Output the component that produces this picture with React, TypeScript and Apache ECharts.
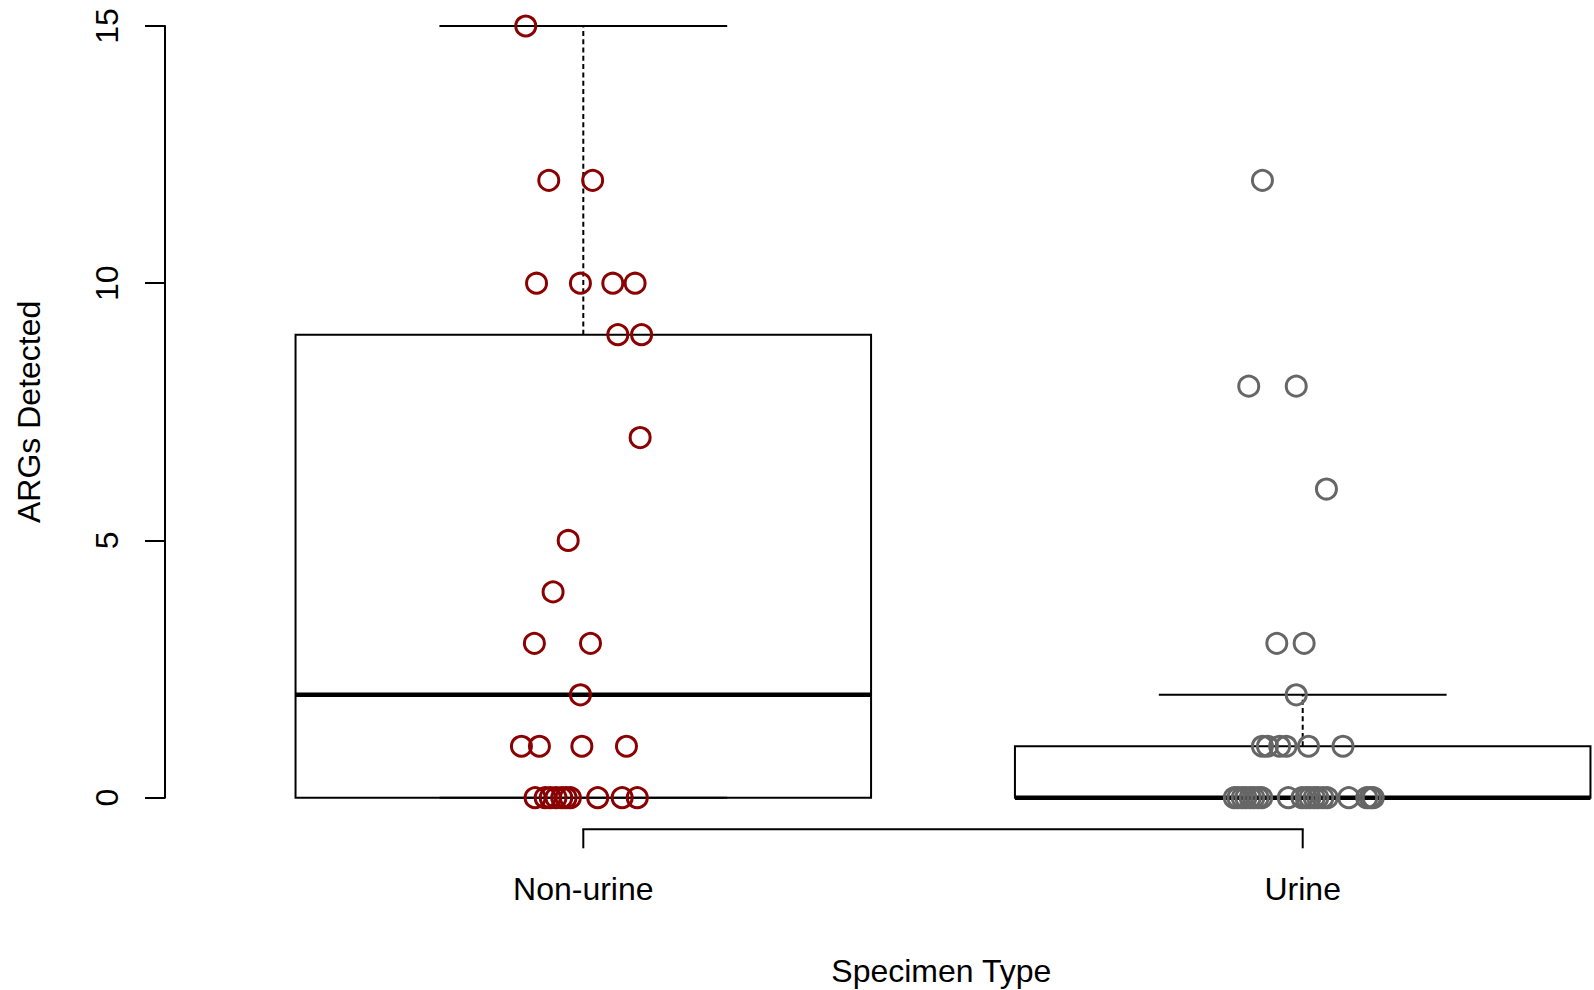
import React, { useEffect, useRef } from "react";
import * as echarts from "echarts";

// ---- data ----
const categories = ["Non-urine", "Urine"];
const categoryPos = [1, 2];
const yTicks = [0, 5, 10, 15];

// box statistics: [lower whisker, Q1, median, Q3, upper whisker]
const nonUrineBox = [0, 0, 2, 9, 15];
const urineBox = [0, 0, 0, 1, 2];

// jittered points (x = category position + jitter)
const nonUrineX = [
  0.92,
  0.952, 1.013,
  0.935, 0.996, 1.041, 1.072,
  1.048, 1.081,
  1.079,
  0.979,
  0.958,
  0.932, 1.01,
  0.996,
  0.914, 0.939, 0.998, 1.06,
  0.933, 0.947, 0.954, 0.962, 0.97, 0.976, 0.982, 1.02, 1.054, 1.075,
];
const nonUrineY = [
  15,
  12, 12,
  10, 10, 10, 10,
  9, 9,
  7,
  5,
  4,
  3, 3,
  2,
  1, 1, 1, 1,
  0, 0, 0, 0, 0, 0, 0, 0, 0, 0,
];
const urineX = [
  1.944,
  1.925, 1.991,
  2.033,
  1.964, 2.002,
  1.991,
  1.944, 1.951, 1.968, 1.977, 2.008, 2.056,
  1.905, 1.91, 1.916, 1.921, 1.927, 1.932, 1.938, 1.943, 1.98, 1.999,
  2.005, 2.01, 2.016, 2.021, 2.028, 2.034, 2.064, 2.089, 2.094, 2.098,
];
const urineY = [
  12,
  8, 8,
  6,
  3, 3,
  2,
  1, 1, 1, 1, 1, 1,
  0, 0, 0, 0, 0, 0, 0, 0, 0, 0,
  0, 0, 0, 0, 0, 0, 0, 0, 0, 0,
];

// ---- style constants ----
const FONT = '"Liberation Sans", Arial, Helvetica, sans-serif';
const FONT_SIZE = 32;
const BOX_WIDTH = 0.8;
const STAPLE_WIDTH = 0.4;
const X_AXIS_OFFSET = 31.6;
const X_TICK_LEN = 19;
const RED = "#8B0000";
const GRAY = "#666666";

export default function App() {
  const ref = useRef<HTMLDivElement>(null);

  useEffect(() => {
    if (!ref.current) return;
    const chart = echarts.init(ref.current, null, { renderer: "svg" });

    const boxData = [
      [categoryPos[0], ...nonUrineBox],
      [categoryPos[1], ...urineBox],
    ];

    const renderBox = (params: any, api: any) => {
      const x = api.value(0);
      const cx = api.coord([x, 0])[0];
      const yMin = api.coord([x, api.value(1)])[1];
      const yQ1 = api.coord([x, api.value(2)])[1];
      const yMed = api.coord([x, api.value(3)])[1];
      const yQ3 = api.coord([x, api.value(4)])[1];
      const yMax = api.coord([x, api.value(5)])[1];
      const half = api.size([BOX_WIDTH, 0])[0] / 2;
      const sHalf = api.size([STAPLE_WIDTH, 0])[0] / 2;
      const solid = { stroke: "#000", lineWidth: 2, fill: "none" };
      const dashed = { stroke: "#000", lineWidth: 2, lineDash: [5, 3.3] };
      return {
        type: "group",
        children: [
          {
            type: "line",
            shape: { x1: cx, y1: yQ3, x2: cx, y2: yMax },
            style: dashed,
          },
          {
            type: "line",
            shape: { x1: cx, y1: yQ1, x2: cx, y2: yMin },
            style: dashed,
          },
          {
            type: "line",
            shape: { x1: cx - sHalf, y1: yMax, x2: cx + sHalf, y2: yMax },
            style: solid,
          },
          {
            type: "line",
            shape: { x1: cx - sHalf, y1: yMin, x2: cx + sHalf, y2: yMin },
            style: solid,
          },
          {
            type: "rect",
            shape: { x: cx - half, y: yQ3, width: half * 2, height: yQ1 - yQ3 },
            style: solid,
          },
          {
            type: "line",
            shape: { x1: cx - half, y1: yMed, x2: cx + half, y2: yMed },
            style: { stroke: "#000", lineWidth: 4.5 },
          },
        ],
      };
    };

    // x axis line (spanning first to last category) with outward ticks
    const renderXAxisLine = (params: any, api: any) => {
      const p1 = api.coord([categoryPos[0], 0]);
      const p2 = api.coord([categoryPos[categoryPos.length - 1], 0]);
      const y = p1[1] + X_AXIS_OFFSET;
      const children: any[] = [
        {
          type: "line",
          shape: { x1: p1[0], y1: y, x2: p2[0], y2: y },
          style: { stroke: "#000", lineWidth: 2, lineCap: "square" },
        },
      ];
      categoryPos.forEach((c) => {
        const px = api.coord([c, 0])[0];
        children.push({
          type: "line",
          shape: { x1: px, y1: y, x2: px, y2: y + X_TICK_LEN },
          style: { stroke: "#000", lineWidth: 2 },
        });
      });
      return { type: "group", children };
    };

    const pointStyle = (color: string) => ({
      type: "scatter" as const,
      symbol: "circle",
      symbolSize: 20,
      clip: false,
      itemStyle: { color: "rgba(0,0,0,0)", borderColor: color, borderWidth: 3, opacity: 1 },
      z: 5,
    });

    chart.setOption({
      animation: false,
      backgroundColor: "#ffffff",
      textStyle: { fontFamily: FONT },
      grid: { left: 165, right: 0, top: 26, bottom: 192.3, containLabel: false },
      xAxis: {
        type: "value",
        min: 1 - 418.3 / 719.4,
        max: 2 + 291.3 / 719.4,
        offset: X_AXIS_OFFSET,
        axisLine: { show: false },
        splitLine: { show: false },
        axisTick: { show: false },
        axisLabel: {
          show: true,
          customValues: categoryPos,
          formatter: (v: number) => categories[categoryPos.indexOf(Math.round(v))] ?? "",
          margin: 43.6,
          fontSize: FONT_SIZE,
          fontFamily: FONT,
          color: "#000",
        },
      },
      yAxis: {
        type: "value",
        min: yTicks[0],
        max: yTicks[yTicks.length - 1],
        interval: yTicks[1] - yTicks[0],
        name: "ARGs Detected",
        nameLocation: "middle",
        nameRotate: 90,
        nameGap: 120,
        nameTextStyle: { fontSize: FONT_SIZE, fontFamily: FONT, color: "#000" },
        axisLine: { show: true, lineStyle: { color: "#000", width: 2 } },
        axisTick: { show: true, length: 20, lineStyle: { color: "#000", width: 2 } },
        axisLabel: {
          rotate: 90,
          margin: 41.8,
          fontSize: FONT_SIZE,
          fontFamily: FONT,
          color: "#000",
        },
        splitLine: { show: false },
      },
      graphic: [
        {
          type: "text",
          x: 941.3,
          y: 970.9,
          style: {
            text: "Specimen Type",
            fontSize: FONT_SIZE,
            fontFamily: FONT,
            fill: "#000",
            align: "center",
            verticalAlign: "middle",
          },
        },
      ],
      series: [
        {
          type: "custom",
          name: "box",
          renderItem: renderBox,
          data: boxData,
          clip: false,
          z: 2,
          silent: true,
        },
        {
          type: "custom",
          name: "xaxisline",
          renderItem: renderXAxisLine,
          data: [[categoryPos[0], 0]],
          clip: false,
          z: 2,
          silent: true,
        },
        {
          ...pointStyle(RED),
          name: "Non-urine",
          data: nonUrineX.map((x, i) => [x, nonUrineY[i]]),
        },
        {
          ...pointStyle(GRAY),
          name: "Urine",
          data: urineX.map((x, i) => [x, urineY[i]]),
        },
      ],
    });

    return () => chart.dispose();
  }, []);

  return (
    <div
      ref={ref}
      style={{ position: "absolute", left: 0, top: 0, width: 1594, height: 990, background: "#fff" }}
    />
  );
}
